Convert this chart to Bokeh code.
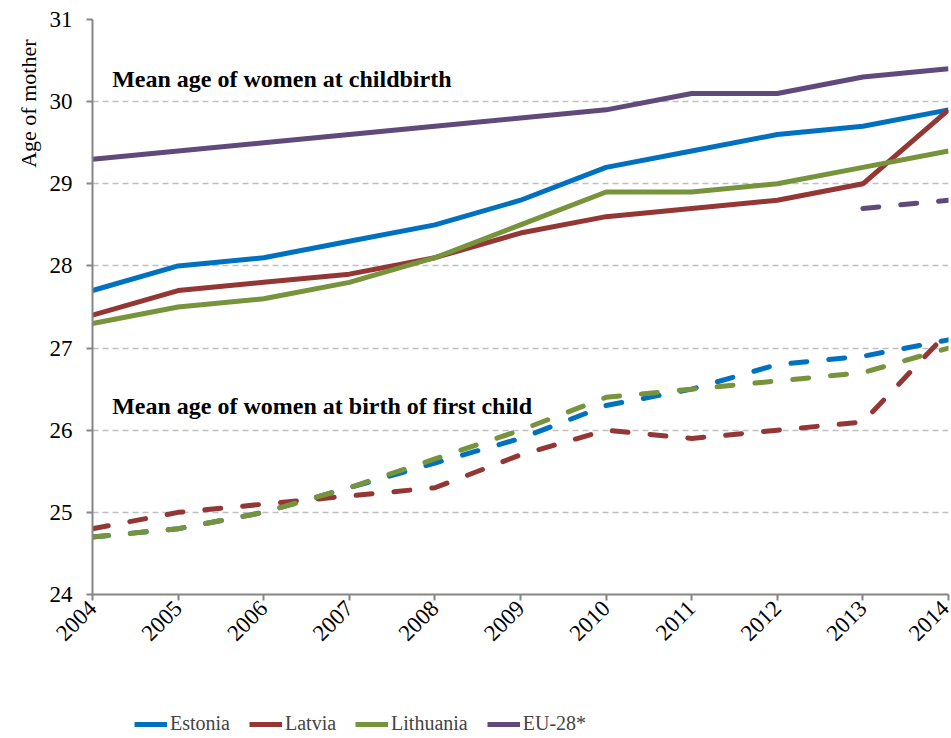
from math import pi
from bokeh.plotting import figure
from bokeh.layouts import column
from bokeh.models import Legend, LegendItem, Label, FixedTicker, Title
from bokeh.embed import file_html
from bokeh.resources import INLINE

years = [2004, 2005, 2006, 2007, 2008, 2009, 2010, 2011, 2012, 2013, 2014]

# Mean age of women at childbirth
estonia_all = [27.7, 28.0, 28.1, 28.3, 28.5, 28.8, 29.2, 29.4, 29.6, 29.7, 29.9]
latvia_all = [27.4, 27.7, 27.8, 27.9, 28.1, 28.4, 28.6, 28.7, 28.8, 29.0, 29.9]
lithuania_all = [27.3, 27.5, 27.6, 27.8, 28.1, 28.5, 28.9, 28.9, 29.0, 29.2, 29.4]
eu_all = [29.3, 29.4, 29.5, 29.6, 29.7, 29.8, 29.9, 30.1, 30.1, 30.3, 30.4]

# Mean age of women at birth of first child
estonia_first = [24.7, 24.8, 25.0, 25.3, 25.6, 25.9, 26.3, 26.5, 26.8, 26.9, 27.1]
latvia_first = [24.8, 25.0, 25.1, 25.2, 25.3, 25.7, 26.0, 25.9, 26.0, 26.1, 27.2]
lithuania_first = [24.7, 24.8, 25.0, 25.3, 25.65, 26.0, 26.4, 26.5, 26.6, 26.7, 27.0]
eu_first_years = [2013, 2014]
eu_first = [28.7, 28.8]

series_names = ["Estonia", "Latvia", "Lithuania", "EU-28*"]
colors = ["#0070C0", "#943634", "#77933C", "#604A7B"]
y_ticks = [24, 25, 26, 27, 28, 29, 30, 31]
annot_all = "Mean age of women at childbirth"
annot_first = "Mean age of women at birth of first child"
y_title = "Age of mother"

FONT = "Liberation Serif"

p = figure(width=950, height=650, output_backend="svg", toolbar_location=None,
           x_range=(2004, 2014), y_range=(24, 31),
           min_border_left=92, min_border_right=2, min_border_top=19, min_border_bottom=53)
p.outline_line_color = None
p.background_fill_color = "white"
p.border_fill_color = "white"

p.xgrid.grid_line_color = None
p.ygrid.grid_line_color = "#BFBFBF"
p.ygrid.grid_line_width = 1.5
p.ygrid.grid_line_dash = "6 4"

p.xaxis.ticker = FixedTicker(ticks=years)
p.yaxis.ticker = FixedTicker(ticks=y_ticks)
for ax in (p.xaxis, p.yaxis):
    ax.axis_line_color = "#868686"
    ax.axis_line_width = 2
    ax.major_tick_line_color = "#868686"
    ax.major_tick_line_width = 2
    ax.major_tick_out = 6
    ax.major_tick_in = 0
    ax.minor_tick_line_color = None
    ax.major_label_text_font = FONT
    ax.major_label_text_font_size = "23px"
    ax.major_label_text_color = "black"
p.xaxis.major_label_orientation = pi / 4
p.xaxis.major_label_standoff = 4
p.yaxis.major_label_standoff = 14

solid = []
all_series = [estonia_all, latvia_all, lithuania_all, eu_all]
first_series = [estonia_first, latvia_first, lithuania_first]
for vals, c in zip(all_series, colors):
    r = p.line(years, vals, line_color=c, line_width=5, line_join="round")
    solid.append(r)
for vals, c in zip(first_series, colors[:3]):
    p.line(years, vals, line_color=c, line_width=5, line_dash="16 22", line_cap="round")
p.line(eu_first_years, eu_first, line_color=colors[3], line_width=5, line_dash="16 22", line_cap="round")

p.add_layout(Label(x=2004.23, y=30.27, text=annot_all, text_font=FONT, text_font_style="bold",
                   text_font_size="24px", text_baseline="middle", text_color="black"))
p.add_layout(Label(x=2004.23, y=26.3, text=annot_first, text_font=FONT, text_font_style="bold",
                   text_font_size="24px", text_baseline="middle", text_color="black"))

ytitle = Title(text=y_title, align="right", text_font=FONT, text_font_size="22px",
               text_font_style="normal", text_color="black", standoff=12, offset=20)
p.add_layout(ytitle, "left")

# legend strip below the chart (proxy lines lie outside the strip's visible range)
lg = figure(width=950, height=86, output_backend="svg", toolbar_location=None,
            x_range=(0, 1), y_range=(0, 1), min_border=0)
lg.axis.visible = False
lg.grid.grid_line_color = None
lg.outline_line_color = None
lg.border_fill_color = "white"
lg_renderers = [lg.line([5, 6], [5, 6], line_color=c, line_width=5) for c in colors]
legend = Legend(items=[LegendItem(label=n, renderers=[r]) for n, r in zip(series_names, lg_renderers)],
                orientation="horizontal", location=(42, 1), border_line_color=None,
                background_fill_alpha=0, padding=0, margin=0, spacing=19,
                glyph_width=33, label_standoff=3,
                label_text_font=FONT, label_text_font_size="20px")
lg.add_layout(legend, "center")

layout = column(p, lg, spacing=0)
open("out.html", "w").write(file_html(layout, INLINE))
